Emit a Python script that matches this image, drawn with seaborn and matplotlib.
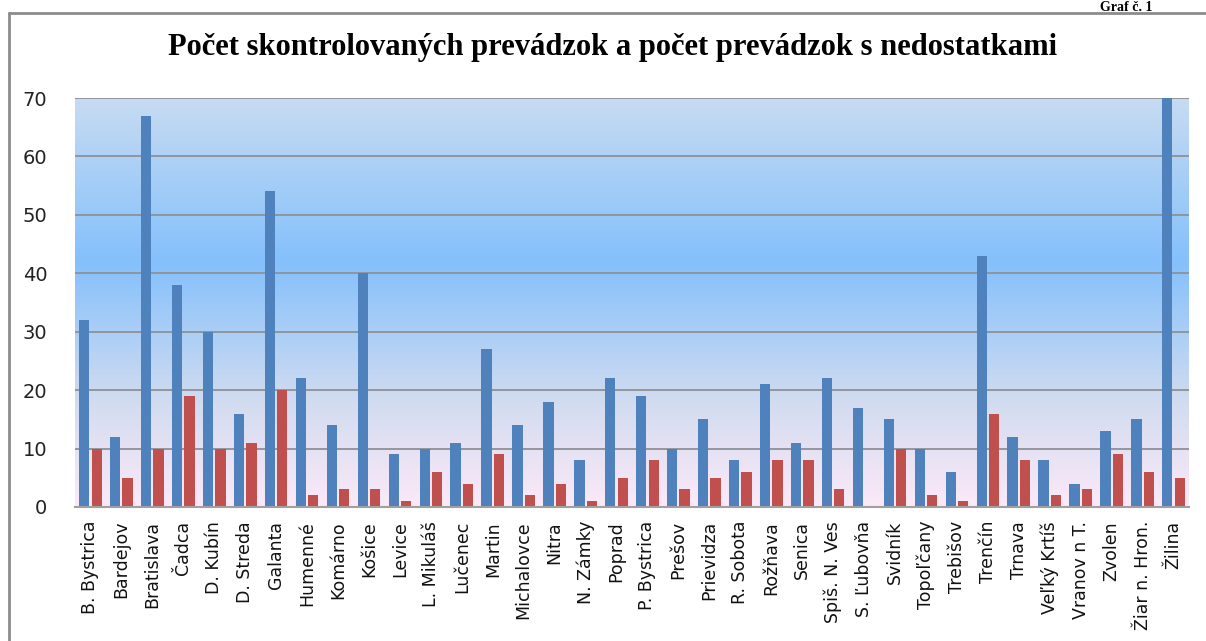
import numpy as np
import pandas as pd
import matplotlib
matplotlib.use("Agg")
import matplotlib.pyplot as plt
from matplotlib.colors import LinearSegmentedColormap
from matplotlib.lines import Line2D
import seaborn as sns

okresy = ["B. Bystrica", "Bardejov", "Bratislava", "Čadca", "D. Kubín", "D. Streda",
          "Galanta", "Humenné", "Komárno", "Košice", "Levice", "L. Mikuláš", "Lučenec",
          "Martin", "Michalovce", "Nitra", "N. Zámky", "Poprad", "P. Bystrica", "Prešov",
          "Prievidza", "R. Sobota", "Rožňava", "Senica", "Spiš. N. Ves", "S. Ľubovňa",
          "Svidník", "Topoľčany", "Trebišov", "Trenčín", "Trnava", "Veľký Krtíš",
          "Vranov n T.", "Zvolen", "Žiar n. Hron.", "Žilina"]
skontrolovane = [32, 12, 67, 38, 30, 16, 54, 22, 14, 40, 9, 10, 11, 27, 14, 18, 8, 22, 19, 10,
                 15, 8, 21, 11, 22, 17, 15, 10, 6, 43, 12, 8, 4, 13, 15, 70]
s_nedostatkami = [10, 5, 10, 19, 10, 11, 20, 2, 3, 3, 1, 6, 4, 9, 2, 4, 1, 5, 8, 3,
                  5, 6, 8, 8, 3, 0, 10, 2, 1, 16, 8, 2, 3, 9, 6, 5]
serie = ["Počet skontrolovaných prevádzok", "Počet prevádzok s nedostatkami"]
title = "Počet skontrolovaných prevádzok a počet prevádzok s nedostatkami"
yticks = [0, 10, 20, 30, 40, 50, 60, 70]

df = pd.DataFrame({
    "okres": okresy * 2,
    "pocet": skontrolovane + s_nedostatkami,
    "serie": [serie[0]] * len(okresy) + [serie[1]] * len(okresy),
})

sns.set_style("white")
plt.rcParams["font.family"] = ["DejaVu Sans"]

W, H = 1206, 641
fig = plt.figure(figsize=(W / 100, H / 100), dpi=100)
fig.patch.set_facecolor("white")
ax = fig.add_axes([75 / W, 1 - 507 / H, (1189 - 75) / W, (507 - 98) / H])
ax.set_facecolor("none")

# gradient background
cmap = LinearSegmentedColormap.from_list(
    "bg",
    [(0.0, "#FCE9F8"), (0.25, "#D3DCF0"), (0.6, "#84C0FC"), (1.0, "#C7DBF2")])
grad = np.linspace(0, 1, 256).reshape(-1, 1)
ax.imshow(grad, extent=[0, 1, 0, 1], transform=ax.transAxes, aspect="auto",
          cmap=cmap, origin="lower", zorder=0, interpolation="bicubic")

sns.barplot(data=df, x="okres", y="pocet", hue="serie",
            palette=["#4F81BD", "#C0504D"], saturation=1, width=0.8, gap=0.17,
            legend=False, ax=ax, zorder=3, edgecolor="none")
for p in ax.patches:
    p.set_zorder(3)

ax.set_xlim(-0.5, len(okresy) - 0.5)
ax.set_ylim(0, 70)
ax.set_yticks(yticks)
ax.set_yticklabels([str(v) for v in yticks], fontsize=14, color="#222222")
ax.tick_params(axis="y", length=0, pad=20)
ax.tick_params(axis="x", length=0, pad=10)
ax.set_xticks(range(len(okresy)))
ax.set_xticklabels(okresy, rotation=90, fontsize=12.5, va="top", ha="center", color="#111111")
ax.set_xlabel("")
ax.set_ylabel("")
ax.yaxis.grid(True, color="#8E9196", linewidth=1.3, zorder=1)
ax.set_axisbelow(False)
for g in ax.get_ygridlines():
    g.set_zorder(1)
for s in ["left", "right", "top"]:
    ax.spines[s].set_visible(False)
ax.spines["bottom"].set_color("#A0A0A0")
ax.spines["bottom"].set_linewidth(1.5)
ax.spines["bottom"].set_zorder(4)

# title
fig.text(613 / W, 1 - 47 / H, title, ha="center", va="center",
         fontsize=22, fontweight="bold", family=["Liberation Serif"], color="black")
# header text
fig.text(1100 / W, 1 - 1 / H, "Graf č. 1", ha="left", va="top",
         fontsize=10, fontweight="bold", family=["Liberation Serif"], color="black")

# frame around chart
fig.add_artist(Line2D([9 / W, 9 / W], [0, 1 - 12.5 / H], transform=fig.transFigure,
                      color="#8C8C8C", linewidth=2))
fig.add_artist(Line2D([9 / W, 1], [1 - 12.5 / H, 1 - 12.5 / H], transform=fig.transFigure,
                      color="#8C8C8C", linewidth=2))

fig.savefig("out.png", dpi=100)
